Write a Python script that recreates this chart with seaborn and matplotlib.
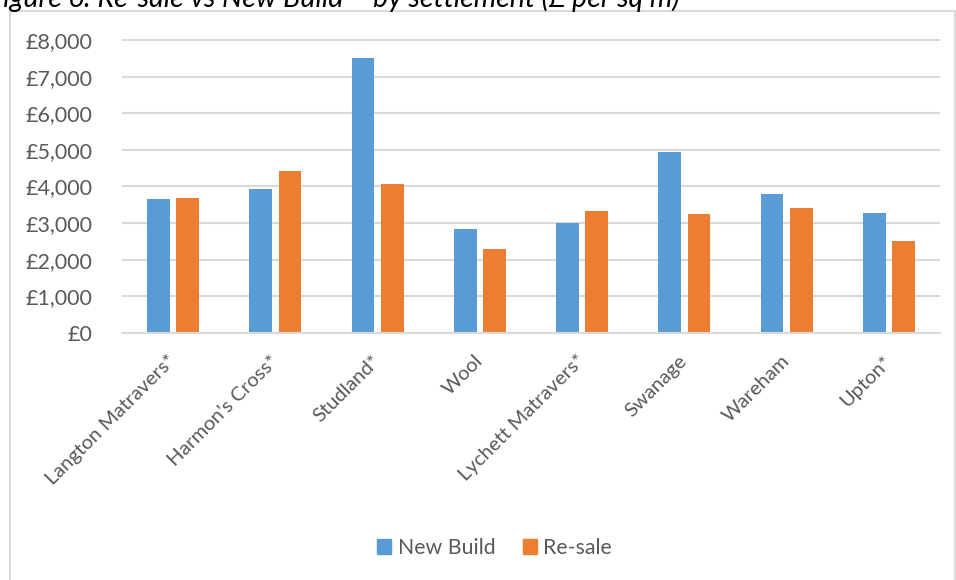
import matplotlib
matplotlib.use("Agg")
import matplotlib.pyplot as plt
import seaborn as sns
import pandas as pd
from matplotlib.patches import Rectangle
from matplotlib.ticker import FuncFormatter, FixedLocator

settlements = ["Langton Matravers*", "Harmon's Cross*", "Studland*", "Wool",
               "Lychett Matravers*", "Swanage", "Wareham", "Upton*"]
new_build = [3660, 3930, 7500, 2830, 3000, 4940, 3790, 3280]
resale = [3690, 4430, 4080, 2290, 3320, 3260, 3400, 2500]
series = ["New Build", "Re-sale"]
colors = ["#5B9BD5", "#ED7D31"]
yticks = [0, 1000, 2000, 3000, 4000, 5000, 6000, 7000, 8000]
title = "Figure 6: Re-sale vs New Build \u2013 by settlement (\u00a3 per sq m)"

rows = []
for s, a, b in zip(settlements, new_build, resale):
    rows.append({"Settlement": s, "Series": series[0], "Value": a})
    rows.append({"Settlement": s, "Series": series[1], "Value": b})
df = pd.DataFrame(rows)

sns.set_theme(style="white")
plt.rcParams["font.family"] = ["Lato", "DejaVu Sans"]
text_color = "#595959"
grid_color = "#D9D9D9"

W, H = 956, 580
fig = plt.figure(figsize=(W / 100, H / 100), dpi=100)
ppk = (333 - 40) / 8000.0
top_px = 333 - 8100 * ppk
ax = fig.add_axes([122 / W, 1 - 333 / H, (940 - 122) / W, (333 - top_px) / H])

sns.barplot(data=df, x="Settlement", y="Value", hue="Series", order=settlements,
            hue_order=series, palette=colors, width=0.571, gap=0.22,
            errorbar=None, linewidth=0, saturation=1, ax=ax)

ax.set_ylim(0, 8100)
ax.set_xlim(-0.5, len(settlements) - 0.5)
ax.yaxis.set_major_locator(FixedLocator(yticks))
ax.yaxis.set_major_formatter(FuncFormatter(lambda v, p: "\u00a3{:,.0f}".format(v)))
ax.set_axisbelow(True)
ax.grid(axis="y", color=grid_color, linewidth=1.5)
ax.grid(axis="x", visible=False)
for sp in ["top", "right", "left"]:
    ax.spines[sp].set_visible(False)
ax.spines["bottom"].set_color(grid_color)
ax.spines["bottom"].set_linewidth(1.5)
ax.set_xlabel("")
ax.set_ylabel("")
ax.tick_params(axis="y", length=0, pad=21, labelsize=15.5, labelcolor=text_color)
ax.tick_params(axis="x", length=0, pad=18, labelsize=14.5, labelcolor=text_color)
for lbl in ax.get_xticklabels():
    lbl.set_rotation(45)
    lbl.set_ha("right")
    lbl.set_va("center")
    lbl.set_rotation_mode("anchor")

leg = ax.get_legend()
if leg is not None:
    leg.remove()
handles = [Rectangle((0, 0), 1, 1, color=c) for c in colors]
fig.legend(handles, series, loc="center", bbox_to_anchor=(494.5 / W, 1 - 548 / H),
           ncol=2, frameon=False, handlelength=0.65, handleheight=0.65,
           handletextpad=0.3, columnspacing=1.3, fontsize=15.3, labelcolor=text_color)

# chart area border (partially off-canvas, as in the reference)
fig.patches.append(Rectangle((10 / W, -0.05), (955 - 10) / W, 1.05 - 11 / H,
                             transform=fig.transFigure, fill=False,
                             edgecolor=grid_color, linewidth=1.5))

fig.text(-12 / W, 1 - 7 / H, title, ha="left", va="baseline", fontsize=20.5,
         style="italic", color="#000000")

fig.savefig("out.png", dpi=100)
